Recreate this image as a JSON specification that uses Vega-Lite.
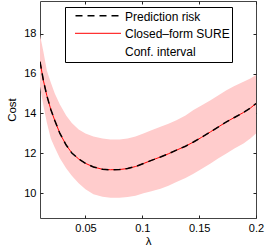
{
  "$schema": "https://vega.github.io/schema/vega-lite/v6.json",
  "width": 216,
  "height": 217,
  "autosize": {"type": "none"},
  "padding": {"left": 40, "top": 1, "right": 10, "bottom": 34},
  "config": {
    "font": "Liberation Sans",
    "view": {"stroke": "#444", "strokeWidth": 1},
    "axis": {"domain": false, "ticks": true, "tickColor": "#222", "tickWidth": 1, "labelColor": "#000", "titleColor": "#000", "labelFontSize": 11, "titleFontSize": 11.5, "titleFontWeight": "normal", "grid": false, "tickSize": 3, "offset": -3, "labelPadding": 4, "labelFlush": false, "zindex": 2},
    "legend": {"title": null, "orient": "none", "cornerRadius": 0, "labelColor": "#000", "labelFontSize": 12}
  },
  "data": {"values": [
    {"lam": 0.010, "risk": 16.60, "lo": 15.35, "hi": 17.93},
    {"lam": 0.013, "risk": 15.65, "lo": 14.40, "hi": 17.10},
    {"lam": 0.016, "risk": 14.90, "lo": 13.55, "hi": 16.15},
    {"lam": 0.0195, "risk": 14.20, "lo": 12.75, "hi": 15.55},
    {"lam": 0.023, "risk": 13.65, "lo": 12.30, "hi": 15.00},
    {"lam": 0.0275, "risk": 13.00, "lo": 11.75, "hi": 14.45},
    {"lam": 0.033, "risk": 12.42, "lo": 11.25, "hi": 13.90},
    {"lam": 0.038, "risk": 12.02, "lo": 10.88, "hi": 13.52},
    {"lam": 0.044, "risk": 11.72, "lo": 10.50, "hi": 13.20},
    {"lam": 0.050, "risk": 11.50, "lo": 10.20, "hi": 13.00},
    {"lam": 0.057, "risk": 11.32, "lo": 9.95, "hi": 12.85},
    {"lam": 0.065, "risk": 11.20, "lo": 9.82, "hi": 12.74},
    {"lam": 0.072, "risk": 11.18, "lo": 9.78, "hi": 12.69},
    {"lam": 0.080, "risk": 11.19, "lo": 9.78, "hi": 12.69},
    {"lam": 0.087, "risk": 11.24, "lo": 9.81, "hi": 12.74},
    {"lam": 0.094, "risk": 11.34, "lo": 9.88, "hi": 12.85},
    {"lam": 0.101, "risk": 11.49, "lo": 10.00, "hi": 13.00},
    {"lam": 0.108, "risk": 11.65, "lo": 10.10, "hi": 13.16},
    {"lam": 0.116, "risk": 11.82, "lo": 10.23, "hi": 13.33},
    {"lam": 0.123, "risk": 11.98, "lo": 10.38, "hi": 13.48},
    {"lam": 0.130, "risk": 12.16, "lo": 10.56, "hi": 13.66},
    {"lam": 0.138, "risk": 12.36, "lo": 10.76, "hi": 13.90},
    {"lam": 0.145, "risk": 12.57, "lo": 10.98, "hi": 14.17},
    {"lam": 0.152, "risk": 12.80, "lo": 11.22, "hi": 14.40},
    {"lam": 0.160, "risk": 13.08, "lo": 11.49, "hi": 14.67},
    {"lam": 0.167, "risk": 13.33, "lo": 11.75, "hi": 14.92},
    {"lam": 0.174, "risk": 13.58, "lo": 12.00, "hi": 15.17},
    {"lam": 0.181, "risk": 13.80, "lo": 12.25, "hi": 15.38},
    {"lam": 0.189, "risk": 14.05, "lo": 12.50, "hi": 15.59},
    {"lam": 0.195, "risk": 14.27, "lo": 12.75, "hi": 15.76},
    {"lam": 0.200, "risk": 14.50, "lo": 13.00, "hi": 15.93}
  ]},
  "resolve": {"axis": {"x": "independent", "y": "independent"}},
  "layer": [
    {
      "mark": {"type": "area", "opacity": 1},
      "encoding": {
        "x": {"field": "lam", "type": "quantitative", "scale": {"domain": [0.01, 0.2], "nice": false, "zero": false}, "axis": {"title": "λ", "values": [0.05, 0.1, 0.15, 0.2], "labelExpr": "datum.value == 0.1 ? '0.1' : datum.value == 0.2 ? '0.2' : datum.label", "titlePadding": 2}},
        "y": {"field": "lo", "type": "quantitative", "scale": {"domain": [8.76, 19.64], "nice": false, "zero": false}, "axis": {"title": "Cost", "values": [10, 12, 14, 16, 18], "titlePadding": 6}},
        "y2": {"field": "hi"},
        "color": {"datum": "Conf. interval", "type": "nominal", "scale": {"domain": ["Prediction risk", "Closed–form SURE", "Conf. interval"], "range": ["#000000", "#ff0000", "#ffcccc"]},
          "legend": {
            "legendX": 25, "legendY": 6,
            "strokeColor": "#000", "padding": 1.5,
            "symbolType": "stroke", "symbolSize": 2116, "symbolStrokeWidth": 1, "symbolOffset": 8, "symbolOpacity": 0,
            "clipHeight": 16, "rowPadding": 1.8, "labelOffset": 3.5
          }},
        "strokeWidth": {"datum": "interval", "type": "ordinal", "scale": {"range": [1]},
          "legend": {
            "legendX": 34.5, "legendY": 43, "padding": 0,
            "symbolType": "M-1,-0.25H1V0.25H-1Z", "symbolSize": 2116, "symbolOffset": 0,
            "symbolFillColor": "#ffcccc", "symbolStrokeColor": "#ffcccc", "symbolOpacity": 1,
            "clipHeight": 16, "labelExpr": "''", "labelOpacity": 0, "labelOffset": 0
          }}
      }
    },
    {
      "mark": {"type": "line", "strokeWidth": 1, "clip": true},
      "encoding": {
        "x": {"field": "lam", "type": "quantitative", "axis": {"orient": "top", "labels": false, "title": null, "ticks": true, "tickSize": 3, "values": [0.05, 0.1, 0.15, 0.2]}},
        "y": {"field": "risk", "type": "quantitative", "axis": {"orient": "right", "labels": false, "title": null, "ticks": true, "tickSize": 3, "values": [10, 12, 14, 16, 18]}},
        "color": {"datum": "Closed–form SURE", "type": "nominal"},
        "opacity": {"datum": "SURE", "type": "nominal", "scale": {"range": [1]},
          "legend": {
            "legendX": 34.5, "legendY": 24.3, "padding": 0,
            "symbolType": "stroke", "symbolSize": 2116, "symbolOffset": 0, "symbolStrokeWidth": 1,
            "symbolStrokeColor": "#ff0000",
            "clipHeight": 16, "labelExpr": "''", "labelOpacity": 0, "labelOffset": 0
          }}
      }
    },
    {
      "mark": {"type": "line", "strokeWidth": 1.5, "clip": true},
      "encoding": {
        "x": {"field": "lam", "type": "quantitative", "axis": null},
        "y": {"field": "risk", "type": "quantitative", "axis": null},
        "color": {"datum": "Prediction risk", "type": "nominal"},
        "strokeDash": {"datum": "risk", "type": "nominal", "scale": {"range": [[7, 5]]},
          "legend": {
            "legendX": 34.5, "legendY": 6.7, "padding": 0,
            "symbolType": "stroke", "symbolSize": 2116, "symbolOffset": 0, "symbolStrokeWidth": 1.5,
            "symbolStrokeColor": "#000000", "symbolDash": [9, 8],
            "clipHeight": 16, "labelExpr": "''", "labelOpacity": 0, "labelOffset": 0
          }}
      }
    }
  ]
}
